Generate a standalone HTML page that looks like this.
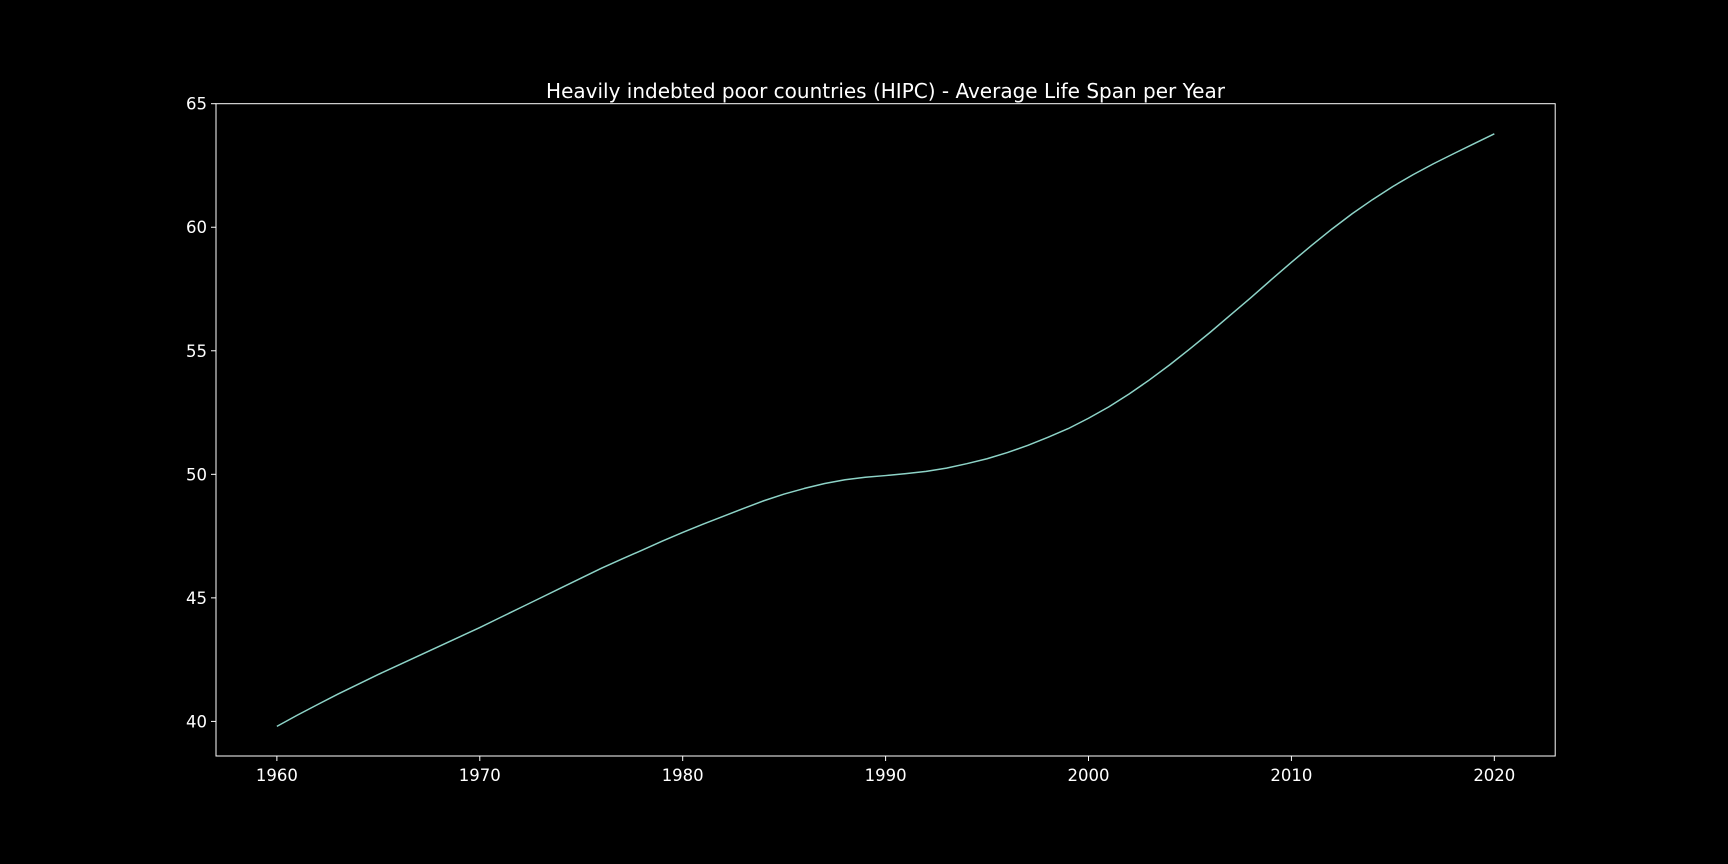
<!DOCTYPE html>
<html><head><meta charset="utf-8"><style>
html,body{margin:0;padding:0;background:#000;}
svg{display:block;}
text{font-family:"DejaVu Sans","Liberation Sans",sans-serif;fill:#fff;}
</style></head><body>
<svg id="chart" width="1728" height="864" viewBox="0 0 1728 864">
<rect width="1728" height="864" fill="#000"/>
<text x="885.5" y="98" font-size="20" text-anchor="middle">Heavily indebted poor countries (HIPC) - Average Life Span per Year</text>
<g id="xticks"></g>
<g id="yticks"></g>
<path id="line" fill="none" stroke="#8dd3c7" stroke-width="1.5" stroke-linejoin="round"/>
<rect x="216" y="103.7" width="1339.2" height="652.3" fill="none" stroke="#fff" stroke-width="1"/>
</svg>
<script>
const years = [];
for (let y = 1960; y <= 2020; y++) years.push(y);
const lifeSpan = [39.8,40.25,40.68,41.1,41.5,41.9,42.28,42.66,43.04,43.42,43.8,44.2,44.6,45.0,45.4,45.8,46.2,46.57,46.93,47.3,47.65,47.98,48.3,48.62,48.93,49.2,49.43,49.63,49.78,49.88,49.95,50.03,50.12,50.25,50.43,50.63,50.88,51.17,51.5,51.85,52.27,52.73,53.25,53.82,54.43,55.08,55.75,56.45,57.15,57.87,58.58,59.27,59.93,60.55,61.12,61.65,62.13,62.57,62.98,63.38,63.78];
const xTickLabels = [1960,1970,1980,1990,2000,2010,2020];
const yTickLabels = [40,45,50,55,60,65];

const L=216,R=1555.2,T=103.7,B=756;
const xmin=1957,xmax=2023,ymin=38.6,ymax=65.0;
const sx=v=>L+(v-xmin)/(xmax-xmin)*(R-L);
const sy=v=>B-(v-ymin)/(ymax-ymin)*(B-T);
const NS="http://www.w3.org/2000/svg";
const xg=document.getElementById('xticks'), yg=document.getElementById('yticks');
xTickLabels.forEach(v=>{
  const ln=document.createElementNS(NS,'line');
  ln.setAttribute('x1',sx(v));ln.setAttribute('x2',sx(v));ln.setAttribute('y1',B);ln.setAttribute('y2',B+5);ln.setAttribute('stroke','#fff');
  
  
  xg.appendChild(ln);
  const t=document.createElementNS(NS,'text');
  t.setAttribute('x',sx(v));t.setAttribute('y',B+25);t.setAttribute('font-size','16.5');t.setAttribute('text-anchor','middle');
  t.textContent=v;
  
  
  xg.appendChild(t);
});
yTickLabels.forEach(v=>{
  const ln=document.createElementNS(NS,'line');
  ln.setAttribute('x1',L-5);ln.setAttribute('x2',L);ln.setAttribute('y1',sy(v));ln.setAttribute('y2',sy(v));ln.setAttribute('stroke','#fff');
  
  
  yg.appendChild(ln);
  const t=document.createElementNS(NS,'text');
  t.setAttribute('x',L-9);t.setAttribute('y',sy(v)+6);t.setAttribute('font-size','16.5');t.setAttribute('text-anchor','end');
  t.textContent=v;
  
  
  yg.appendChild(t);
});
document.getElementById('line').setAttribute('d',years.map((y,i)=>(i?'L':'M')+sx(y).toFixed(2)+' '+sy(lifeSpan[i]).toFixed(2)).join(' '));
</script>
</body></html>
